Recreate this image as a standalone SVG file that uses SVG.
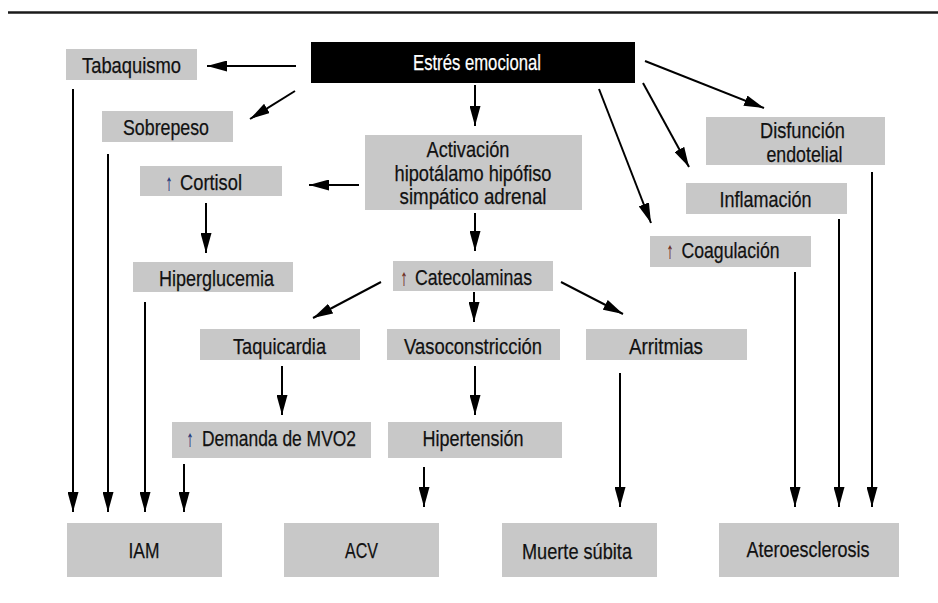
<svg xmlns="http://www.w3.org/2000/svg" width="938" height="603" viewBox="0 0 938 603">
<style>
.b{fill:#c8c8c8}
.t{font-family:"Liberation Sans",Arial,sans-serif;font-size:22.5px;fill:#111;stroke:#111;stroke-width:0.25;text-anchor:middle}
.w{fill:#fff;stroke:#fff}
.c line{stroke:#000;stroke-width:2;marker-end:url(#ah)}
.ub{fill:#1e3578;stroke:#1e3578}
.ur{fill:#6b2a1a;stroke:#6b2a1a}
</style>
<defs>
<marker id="ah" markerUnits="userSpaceOnUse" markerWidth="20" markerHeight="11" refX="20" refY="5.5" orient="auto">
<path d="M0,0 L20,5.5 L0,11 z" fill="#000"/>
</marker>
</defs>
<rect width="938" height="603" fill="#fff"/>
<line x1="8" y1="12.5" x2="938" y2="12.5" stroke="#1a1a1a" stroke-width="2.5"/>

<g id="tabaquismo"><rect class="b" x="66" y="49" width="131" height="31"/><text class="t" x="131.5" y="73" textLength="99" lengthAdjust="spacingAndGlyphs">Tabaquismo</text></g>
<g id="estres"><rect x="311" y="42" width="324" height="41" fill="#000"/><text class="t w" x="477" y="70" textLength="128" lengthAdjust="spacingAndGlyphs">Estrés emocional</text></g>
<g id="sobrepeso"><rect class="b" x="102" y="111" width="131" height="31"/><text class="t" x="166" y="135" textLength="86" lengthAdjust="spacingAndGlyphs">Sobrepeso</text></g>
<g id="cortisol"><rect class="b" x="140" y="166" width="142" height="30"/><text class="t ub" x="169" y="190" textLength="7" lengthAdjust="spacingAndGlyphs">↑</text><text class="t" x="211" y="190" textLength="62" lengthAdjust="spacingAndGlyphs">Cortisol</text></g>
<g id="activacion"><rect class="b" x="365" y="135" width="217" height="75"/><text class="t" x="468" y="157" textLength="83" lengthAdjust="spacingAndGlyphs">Activación</text><text class="t" x="473" y="181" textLength="157" lengthAdjust="spacingAndGlyphs">hipotálamo hipófiso</text><text class="t" x="473" y="204" textLength="147" lengthAdjust="spacingAndGlyphs">simpático adrenal</text></g>
<g id="hiperglucemia"><rect class="b" x="133" y="262" width="160" height="30"/><text class="t" x="216.5" y="286" textLength="115" lengthAdjust="spacingAndGlyphs">Hiperglucemia</text></g>
<g id="catecolaminas"><rect class="b" x="393" y="261" width="160" height="30"/><text class="t ur" x="404" y="285" textLength="7" lengthAdjust="spacingAndGlyphs">↑</text><text class="t" x="473.5" y="285" textLength="117" lengthAdjust="spacingAndGlyphs">Catecolaminas</text></g>
<g id="taquicardia"><rect class="b" x="200" y="329" width="160" height="31"/><text class="t" x="279.5" y="354" textLength="93" lengthAdjust="spacingAndGlyphs">Taquicardia</text></g>
<g id="vasoconstriccion"><rect class="b" x="387" y="329" width="173" height="31"/><text class="t" x="473" y="354" textLength="138" lengthAdjust="spacingAndGlyphs">Vasoconstricción</text></g>
<g id="arritmias"><rect class="b" x="586" y="329" width="161" height="31"/><text class="t" x="666" y="354" textLength="74" lengthAdjust="spacingAndGlyphs">Arritmias</text></g>
<g id="demanda"><rect class="b" x="172" y="422" width="199" height="36"/><text class="t ub" x="190" y="446" textLength="7" lengthAdjust="spacingAndGlyphs">↑</text><text class="t" x="279" y="446" textLength="154" lengthAdjust="spacingAndGlyphs">Demanda de MVO2</text></g>
<g id="hipertension"><rect class="b" x="388" y="422" width="174" height="36"/><text class="t" x="473" y="446" textLength="101" lengthAdjust="spacingAndGlyphs">Hipertensión</text></g>
<g id="coagulacion"><rect class="b" x="650" y="236" width="161" height="31"/><text class="t ur" x="670" y="258" textLength="7" lengthAdjust="spacingAndGlyphs">↑</text><text class="t" x="730.5" y="258" textLength="98" lengthAdjust="spacingAndGlyphs">Coagulación</text></g>
<g id="inflamacion"><rect class="b" x="686" y="183" width="161" height="31"/><text class="t" x="765.5" y="207" textLength="92" lengthAdjust="spacingAndGlyphs">Inflamación</text></g>
<g id="disfuncion"><rect class="b" x="706" y="117" width="179" height="48"/><text class="t" x="802.5" y="138" textLength="85" lengthAdjust="spacingAndGlyphs">Disfunción</text><text class="t" x="804.5" y="162" textLength="76" lengthAdjust="spacingAndGlyphs">endotelial</text></g>
<g id="iam"><rect class="b" x="67" y="523" width="155" height="54"/><text class="t" x="144" y="558" textLength="31" lengthAdjust="spacingAndGlyphs">IAM</text></g>
<g id="acv"><rect class="b" x="284" y="523" width="155" height="54"/><text class="t" x="361.5" y="558" textLength="33" lengthAdjust="spacingAndGlyphs">ACV</text></g>
<g id="muerte"><rect class="b" x="502" y="523" width="155" height="54"/><text class="t" x="577" y="559" textLength="110" lengthAdjust="spacingAndGlyphs">Muerte súbita</text></g>
<g id="ateroesclerosis"><rect class="b" x="719" y="523" width="180" height="54"/><text class="t" x="808" y="557" textLength="123" lengthAdjust="spacingAndGlyphs">Ateroesclerosis</text></g>

<g id="connectors" class="c">
<line x1="296" y1="66" x2="207" y2="66"/>
<line x1="295" y1="91" x2="250" y2="119"/>
<line x1="475" y1="85" x2="475" y2="126"/>
<line x1="599" y1="89" x2="651" y2="223"/>
<line x1="643" y1="83" x2="689" y2="167"/>
<line x1="645" y1="61" x2="764" y2="108"/>
<line x1="359" y1="185" x2="309" y2="185"/>
<line x1="475" y1="213" x2="475" y2="251"/>
<line x1="206" y1="203" x2="206" y2="253"/>
<line x1="381" y1="282" x2="313" y2="318"/>
<line x1="474" y1="292" x2="474" y2="322"/>
<line x1="561" y1="282" x2="623" y2="314"/>
<line x1="282" y1="366" x2="282" y2="415"/>
<line x1="475" y1="366" x2="475" y2="415"/>
<line x1="73" y1="89" x2="73" y2="512"/>
<line x1="108" y1="154" x2="108" y2="512"/>
<line x1="145" y1="302" x2="145" y2="512"/>
<line x1="184" y1="464" x2="184" y2="512"/>
<line x1="424" y1="467" x2="424" y2="507"/>
<line x1="620" y1="373" x2="620" y2="507"/>
<line x1="795" y1="272" x2="795" y2="507"/>
<line x1="839" y1="219" x2="839" y2="507"/>
<line x1="872" y1="172" x2="872" y2="507"/>
</g>
</svg>
